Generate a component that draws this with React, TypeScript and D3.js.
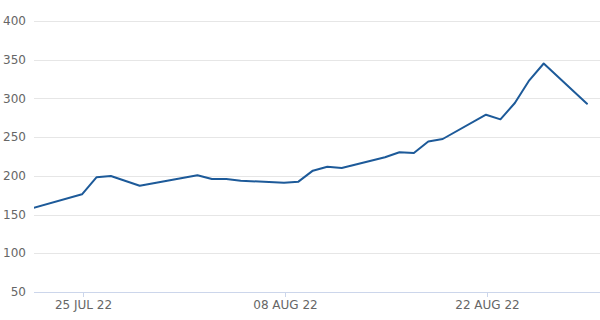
import React from "react";
import * as d3 from "d3";

const dates: string[] = [
  "2022-07-21", "2022-07-25", "2022-07-26", "2022-07-27", "2022-07-29",
  "2022-08-02", "2022-08-03", "2022-08-04", "2022-08-05",
  "2022-08-08", "2022-08-09", "2022-08-10", "2022-08-11", "2022-08-12",
  "2022-08-15", "2022-08-16", "2022-08-17", "2022-08-18", "2022-08-19",
  "2022-08-22", "2022-08-23", "2022-08-24", "2022-08-25", "2022-08-26",
  "2022-08-29",
];
const values: number[] = [
  155.4, 176.2, 198.1, 199.8, 187.3,
  200.7, 195.9, 195.9, 193.7,
  191.2, 192.5, 206.7, 211.8, 210.1,
  224.0, 230.4, 229.5, 244.4, 247.6,
  279.0, 273.0, 294.1, 323.4, 345.1,
  293.2,
];
const yTicks: number[] = [50, 100, 150, 200, 250, 300, 350, 400];
const xTickDates: string[] = ["2022-07-25", "2022-08-08", "2022-08-22"];
const xTickLabels: string[] = ["25 JUL 22", "08 AUG 22", "22 AUG 22"];

const W = 600;
const H = 320;
const plotLeft = 34;
const plotRight = 600;
const plotTop = 21;
const plotBottom = 292;

const parse = d3.utcParse("%Y-%m-%d");

export default function App() {
  const pts = dates.map((d, i) => ({ date: parse(d) as Date, value: values[i] }));
  const x = d3
    .scaleUtc()
    .domain([parse("2022-07-25") as Date, parse("2022-08-29") as Date])
    .range([82, 587]);
  const y = d3.scaleLinear().domain([50, 400]).range([plotBottom, plotTop]);
  const line = d3
    .line<{ date: Date; value: number }>()
    .x((p) => x(p.date))
    .y((p) => y(p.value));
  const font = "'DejaVu Sans', sans-serif";

  return (
    <svg
      width={W}
      height={H}
      style={{ position: "fixed", left: 0, top: 0, background: "#fff" }}
    >
      <defs>
        <clipPath id="plot">
          <rect x={plotLeft} y={0} width={plotRight - plotLeft} height={H} />
        </clipPath>
      </defs>
      {yTicks.map((t) => (
        <g key={t}>
          <line
            x1={plotLeft}
            x2={plotRight}
            y1={Math.round(y(t)) + 0.5}
            y2={Math.round(y(t)) + 0.5}
            stroke={t === 50 ? "#ccd6eb" : "#e6e6e6"}
            strokeWidth={1}
          />
          <text
            x={26}
            y={y(t)}
            dy="0.35em"
            textAnchor="end"
            fontFamily={font}
            fontSize={12}
            fill="#666666"
          >
            {t}
          </text>
        </g>
      ))}
      {xTickDates.map((d, i) => {
        const xx = Math.round(x(parse(d) as Date)) + 1.5;
        return (
          <g key={d}>
            <line
              x1={xx}
              x2={xx}
              y1={plotBottom}
              y2={plotBottom + 5}
              stroke="#ccd6eb"
              strokeWidth={1}
            />
            <text
              x={xx}
              y={309}
              textAnchor="middle"
              fontFamily={font}
              fontSize={12}
              fill="#666666"
            >
              {xTickLabels[i]}
            </text>
          </g>
        );
      })}
      <path
        d={line(pts) || ""}
        fill="none"
        stroke="#1d5a99"
        strokeWidth={2}
        strokeLinejoin="round"
        strokeLinecap="round"
        clipPath="url(#plot)"
      />
    </svg>
  );
}
